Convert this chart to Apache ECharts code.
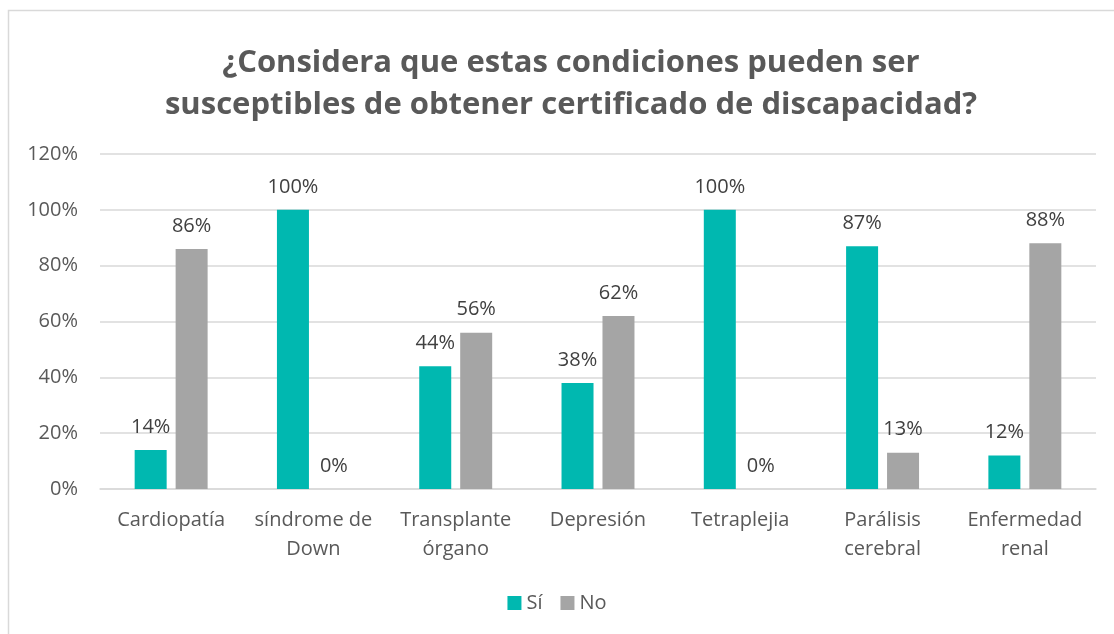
<!DOCTYPE html>
<html>
<head>
<meta charset="utf-8">
<script src="https://cdn.jsdelivr.net/npm/echarts@6/dist/echarts.min.js"></script>
<style>
  html, body { margin: 0; padding: 0; background: #fff; }
  #main { width: 1114px; height: 634px; }
</style>
</head>
<body>
<div id="main"></div>
<script>
// data
var categories = ['Cardiopatía', 'síndrome de\nDown', 'Transplante\nórgano', 'Depresión', 'Tetraplejia', 'Parálisis\ncerebral', 'Enfermedad\nrenal'];
var siValues = [14, 100, 44, 38, 100, 87, 12];
var noValues = [86, 0, 56, 62, 0, 13, 88];
var seriesNames = ['Sí', 'No'];

var chartDom = document.getElementById('main');
var myChart = echarts.init(chartDom);
var font = 'Open Sans';

var labelStyle = {
  show: true,
  position: 'top',
  distance: 13,
  fontFamily: font,
  fontSize: 20,
  color: '#404040',
  formatter: '{c}%'
};

var option = {
  backgroundColor: '#fff',
  animation: false,
  graphic: [{
    type: 'rect',
    shape: { x: 8.5, y: 10.5, width: 1120, height: 640 },
    style: { fill: 'none', stroke: '#d9d9d9', lineWidth: 1.5 },
    silent: true
  }],
  title: {
    text: '¿Considera que estas condiciones pueden ser\nsusceptibles de obtener certificado de discapacidad?',
    left: 566,
    textAlign: 'center',
    top: 37,
    textStyle: {
      fontFamily: font,
      fontWeight: 'bold',
      fontSize: 31,
      color: '#595959',
      lineHeight: 42
    }
  },
  legend: {
    data: seriesNames,
    bottom: 16,
    left: 'center',
    itemWidth: 14,
    itemHeight: 14,
    itemGap: 18,
    icon: 'rect',
    textStyle: { fontFamily: font, fontSize: 20, color: '#595959' }
  },
  grid: { left: 100, right: 18, top: 154, bottom: 145 },
  xAxis: {
    type: 'category',
    data: categories,
    axisLine: { lineStyle: { color: '#d9d9d9', width: 1.5 } },
    axisTick: { show: false },
    axisLabel: {
      fontFamily: font,
      fontSize: 20,
      color: '#595959',
      lineHeight: 29,
      margin: 17,
      interval: 0
    }
  },
  yAxis: {
    type: 'value',
    min: 0,
    max: 120,
    interval: 20,
    axisLine: { show: false },
    axisTick: { show: false },
    splitLine: { lineStyle: { color: '#d9d9d9', width: 1.5 } },
    axisLabel: {
      fontFamily: font,
      fontSize: 20,
      color: '#595959',
      margin: 22,
      formatter: '{value}%'
    }
  },
  series: [
    {
      name: seriesNames[0],
      type: 'bar',
      data: siValues,
      barWidth: 32,
      barGap: '28%',
      itemStyle: { color: '#00B8B0' },
      label: labelStyle
    },
    {
      name: seriesNames[1],
      type: 'bar',
      data: noValues,
      barWidth: 32,
      barGap: '28%',
      itemStyle: { color: '#A5A5A5' },
      label: labelStyle
    }
  ]
};

myChart.setOption(option);
</script>
</body>
</html>
